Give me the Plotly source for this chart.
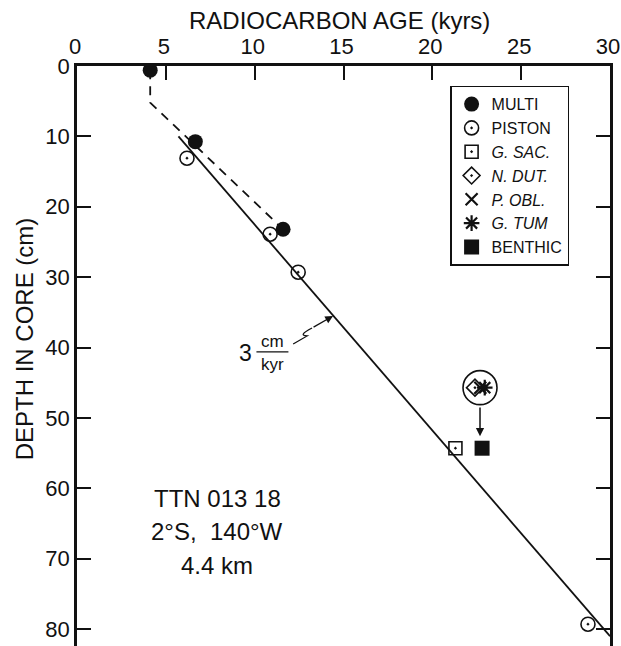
import plotly.graph_objects as go

# ---- data ----
multi_age = [4.12, 6.66, 11.6]
multi_depth = [0.6, 10.75, 23.2]
piston_age = [6.19, 10.87, 12.45, 28.76]
piston_depth = [13.1, 23.9, 29.3, 79.3]
gsac_age = [21.3]
gsac_depth = [54.3]
ndut_age = [22.4]
ndut_depth = [45.7]
pobl_age = [22.7]
pobl_depth = [45.7]
gtum_age = [22.95]
gtum_depth = [45.7]
benthic_age = [22.8]
benthic_depth = [54.3]
trend_age = [5.71, 30.0]
trend_depth = [10.0, 81.0]
multi_fit_age = [4.12, 4.12, 11.6]
multi_fit_depth = [0.6, 5.2, 23.2]
x_ticks = [0, 5, 10, 15, 20, 25, 30]
y_ticks = [0, 10, 20, 30, 40, 50, 60, 70, 80]

INK = "#111111"
FONT = "Liberation Sans, Arial, Helvetica, sans-serif"

fig = go.Figure()

# lines
fig.add_trace(go.Scatter(x=trend_age, y=trend_depth, mode="lines",
                         line=dict(color=INK, width=1.8), showlegend=False, hoverinfo="skip"))
fig.add_trace(go.Scatter(x=multi_fit_age, y=multi_fit_depth, mode="lines",
                         line=dict(color=INK, width=1.8, dash="9px,7px"), showlegend=False,
                         hoverinfo="skip"))

# enclosing circle around the planktonic cluster
cl_x = (ndut_age[0] + pobl_age[0] + gtum_age[0]) / 3
cl_y = (ndut_depth[0] + pobl_depth[0] + gtum_depth[0]) / 3
fig.add_trace(go.Scatter(x=[cl_x], y=[cl_y], mode="markers", showlegend=False, hoverinfo="skip",
                         marker=dict(symbol="circle-open", size=34, color=INK, line=dict(width=1.6))))

# point series
fig.add_trace(go.Scatter(x=multi_age, y=multi_depth, mode="markers", name="MULTI",
                         marker=dict(symbol="circle", size=15, color=INK)))
fig.add_trace(go.Scatter(x=piston_age, y=piston_depth, mode="markers", name="PISTON",
                         marker=dict(symbol="circle-open-dot", size=14, color=INK, line=dict(width=1.6))))
fig.add_trace(go.Scatter(x=gsac_age, y=gsac_depth, mode="markers", name="<i>G. SAC.</i>",
                         marker=dict(symbol="square-open-dot", size=13, color=INK, line=dict(width=1.6))))
fig.add_trace(go.Scatter(x=ndut_age, y=ndut_depth, mode="markers", name="<i>N. DUT.</i>",
                         marker=dict(symbol="diamond-open-dot", size=13, color=INK, line=dict(width=1.6))))
fig.add_trace(go.Scatter(x=pobl_age, y=pobl_depth, mode="markers", name="<i>P. OBL.</i>",
                         marker=dict(symbol="x-thin-open", size=12, color=INK, line=dict(width=2.2))))
fig.add_trace(go.Scatter(x=gtum_age, y=gtum_depth, mode="markers", name="<i>G. TUM</i>",
                         marker=dict(symbol="asterisk-open", size=13, color=INK, line=dict(width=2.2))))
fig.add_trace(go.Scatter(x=benthic_age, y=benthic_depth, mode="markers", name="BENTHIC",
                         marker=dict(symbol="square", size=15, color=INK)))

annotations = []
# arrow from cluster to benthic
annotations.append(dict(x=cl_x, y=benthic_depth[0] - 1.7, ax=cl_x, ay=cl_y + 2.6,
                        xref="x", yref="y", axref="x", ayref="y", text="", showarrow=True,
                        arrowhead=2, arrowsize=1.1, arrowwidth=1.5, arrowcolor=INK))
# 3 cm/kyr label
annotations.append(dict(x=9.47, y=40.8, xref="x", yref="y", text="3", showarrow=False,
                        font=dict(size=23, color=INK, family=FONT)))
annotations.append(dict(x=11.0, y=39.2, xref="x", yref="y", text="cm", showarrow=False,
                        font=dict(size=17, color=INK, family=FONT)))
annotations.append(dict(x=11.0, y=42.4, xref="x", yref="y", text="kyr", showarrow=False,
                        font=dict(size=17, color=INK, family=FONT)))
# arrow head of the squiggle
annotations.append(dict(x=14.41, y=35.51, ax=13.23, ay=37.22, xref="x", yref="y", axref="x",
                        ayref="y", text="", showarrow=True, arrowhead=2, arrowsize=1.2,
                        arrowwidth=1.3, arrowcolor=INK))
# core info
for txt, yy in [("TTN 013 18", 61.5), ("2°S,\u00a0 140°W", 66.2), ("4.4 km", 70.9)]:
    annotations.append(dict(x=7.89, y=yy, xref="x", yref="y", text=txt, showarrow=False,
                            font=dict(size=24, color=INK, family=FONT)))
# axis titles
annotations.append(dict(x=0.493, y=1.079, xref="paper", yref="paper", text="RADIOCARBON AGE (kyrs)",
                        showarrow=False, xanchor="center", yanchor="middle",
                        font=dict(size=24, color=INK, family=FONT)))
annotations.append(dict(x=-0.098, y=0.53, xref="paper", yref="paper", text="DEPTH IN CORE (cm)",
                        showarrow=False, textangle=-90, xanchor="center", yanchor="middle",
                        font=dict(size=24, color=INK, family=FONT)))

shapes = [
    dict(type="line", xref="x", yref="y", x0=10.1, x1=11.9, y0=40.6, y1=40.6,
         line=dict(color=INK, width=1.2)),
    dict(type="path", xref="x", yref="y",
         path="M 12.166,39.49 L 12.953,38.35 Q 12.40,38.30 13.23,37.22",
         line=dict(color=INK, width=1.3)),
]

fig.update_layout(
    width=621, height=646,
    margin=dict(l=77, r=11, t=66, b=0, pad=0, autoexpand=False),
    paper_bgcolor="white", plot_bgcolor="white",
    font=dict(family=FONT, color=INK),
    annotations=annotations, shapes=shapes,
    legend=dict(x=0.70, y=0.966, xanchor="left", yanchor="top",
                bgcolor="white", bordercolor=INK, borderwidth=1.5,
                font=dict(size=16, color=INK, family=FONT), itemwidth=30,
                tracegroupgap=0),
    xaxis=dict(range=[0, 30], side="top", tickvals=x_ticks, ticktext=[str(v) for v in x_ticks],
               ticks="inside", ticklen=14, tickwidth=2, tickcolor=INK, automargin=False,
               ticklabeloverflow="allow", ticklabelshift=-2,
               showline=True, linecolor=INK, linewidth=2.5, mirror=False,
               showgrid=False, zeroline=False, tickfont=dict(size=22, color=INK, family=FONT)),
    yaxis=dict(range=[82.4, 0], tickvals=y_ticks, ticktext=[str(v) for v in y_ticks],
               ticks="inside", ticklen=14, tickwidth=2, tickcolor=INK, automargin=False,
               ticklabeloverflow="allow",
               showline=True, linecolor=INK, linewidth=2.5, mirror="ticks",
               showgrid=False, zeroline=False, tickfont=dict(size=22, color=INK, family=FONT)),
)

fig.write_html("out.html", config={"displayModeBar": False},
               post_script="document.body.style.margin='0';document.body.style.overflow='hidden';")
